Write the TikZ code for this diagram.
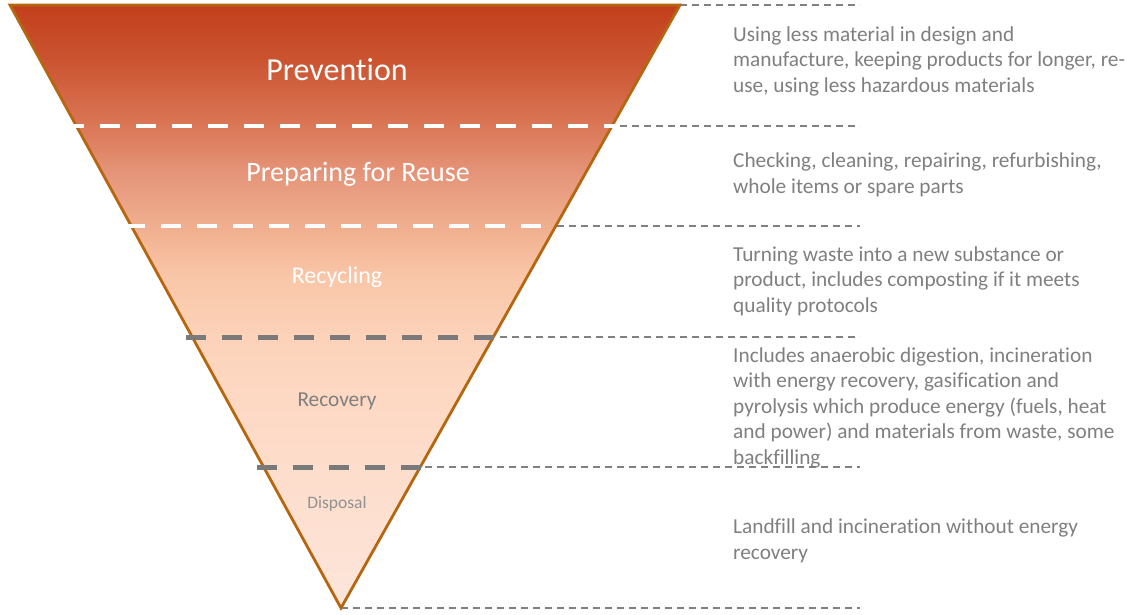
\documentclass[tikz,border=0pt]{standalone}
\usepackage{fontspec}
\setmainfont{Carlito}[Ligatures=CommonOff]
\definecolor{outl}{HTML}{B6660E}
\definecolor{txtgray}{HTML}{7F7F7F}
\definecolor{dashgray}{HTML}{7A7A7A}
\definecolor{guidegray}{HTML}{808080}
\definecolor{g0}{HTML}{C33F1C}
\definecolor{g1}{HTML}{CB5431}
\definecolor{g2}{HTML}{DA7756}
\definecolor{g3}{HTML}{E5957A}
\definecolor{g4}{HTML}{F0AF8E}
\definecolor{g5}{HTML}{F9C6A8}
\definecolor{g6}{HTML}{FCD3BA}
\definecolor{g7}{HTML}{FDD9C4}
\definecolor{g8}{HTML}{FDDFCF}
\definecolor{g9}{HTML}{FDE6DB}
% bbox y=5 -> 75bp ; y=608 -> 25bp ; bp = 75 - 50*(y-5)/603
\pgfdeclareverticalshading{funnel}{100bp}{%
 color(0bp)=(g9); color(25bp)=(g9);
 color(33.7bp)=(g8);
 color(42bp)=(g7);
 color(47.2bp)=(g6);
 color(52.5bp)=(g5);
 color(56.7bp)=(g4);
 color(61bp)=(g3);
 color(65bp)=(g2);
 color(70.4bp)=(g1);
 color(75bp)=(g0); color(100bp)=(g0)}
\tikzset{
 lbl/.style={font=\fontsize{21.3}{25.5}\selectfont, text=txtgray, align=left, anchor=base west, inner sep=0pt},
 whitedash/.style={draw=white, line width=4pt, dash pattern=on 20pt off 16pt},
 graydash/.style={draw=dashgray, line width=5pt, dash pattern=on 20pt off 16pt},
 guide/.style={draw=guidegray, line width=1.3pt, dash pattern=on 7pt off 5pt},
 tier/.style={inner sep=0pt, anchor=base},
}
\begin{document}
\begin{tikzpicture}[x=1pt,y=-1pt]
\useasboundingbox (0,0) rectangle (1127,614);
% triangle corners
\coordinate (tl) at (10,5);
\coordinate (tr) at (680,5);
\coordinate (ap) at (341,608);
\path[shading=funnel] (tl) -- (tr) -- (ap) -- cycle;
% tier separators
\coordinate (a1) at (64,126);  \coordinate (b1) at (620,126);
\coordinate (a2) at (125,226); \coordinate (b2) at (557,226);
\coordinate (a3) at (186,337); \coordinate (b3) at (500,337);
\coordinate (a4) at (257,467); \coordinate (b4) at (425,467);
% guide ends
\coordinate (e0) at (860,5);
\coordinate (e1) at (860,126);
\coordinate (e2) at (860,226);
\coordinate (e3) at (860,337);
\coordinate (e4) at (860,467);
\coordinate (e5) at (860,608);
\draw[guide] (tr) -- (e0);
\draw[guide] (b1) -- (e1);
\draw[guide] (b2) -- (e2);
\draw[guide] (b3) -- (e3);
\draw[guide] (b4) -- (e4);
\draw[guide] (ap) -- (e5);
\draw[outl, line width=2.8pt, miter limit=20] (tl) -- (tr) -- (ap) -- cycle;
\draw[whitedash] (a1) -- (b1);
\draw[whitedash] (a2) -- (b2);
\draw[graydash] (a3) -- (b3);
\draw[graydash] (a4) -- (b4);
% tier labels
\node[tier, text=white, font=\fontsize{32}{38}\selectfont] (prev) at (337,80.7) {Prevention};
\node[tier, text=white, font=\fontsize{28}{34}\selectfont] (prep) at (358,181.7) {Preparing for Reuse};
\node[tier, text=white, font=\fontsize{24}{29}\selectfont] (recy) at (337,283.5) {Recycling};
\node[tier, text=txtgray, font=\fontsize{21.3}{26}\selectfont] (reco) at (337,406) {Recovery};
\node[tier, text=txtgray!85, font=\fontsize{17.5}{21}\selectfont] (disp) at (337,508.3) {Disposal};
% descriptions (anchor = baseline of last line)
\node[lbl] (d1) at (733,92) {Using less material in design and\\manufacture, keeping products for longer, re-\\use, using less hazardous materials};
\node[lbl] (d2) at (733,193) {Checking, cleaning, repairing, refurbishing,\\whole items or spare parts};
\node[lbl] (d3) at (733,312) {Turning waste into a new substance or\\product, includes composting if it meets\\quality protocols};
\node[lbl] (d4) at (733,464) {Includes anaerobic digestion, incineration\\with energy recovery, gasification and\\pyrolysis which produce energy (fuels, heat\\and power) and materials from waste, some\\backfilling};
\node[lbl] (d5) at (733,559) {Landfill and incineration without energy\\recovery};
\end{tikzpicture}
\end{document}
